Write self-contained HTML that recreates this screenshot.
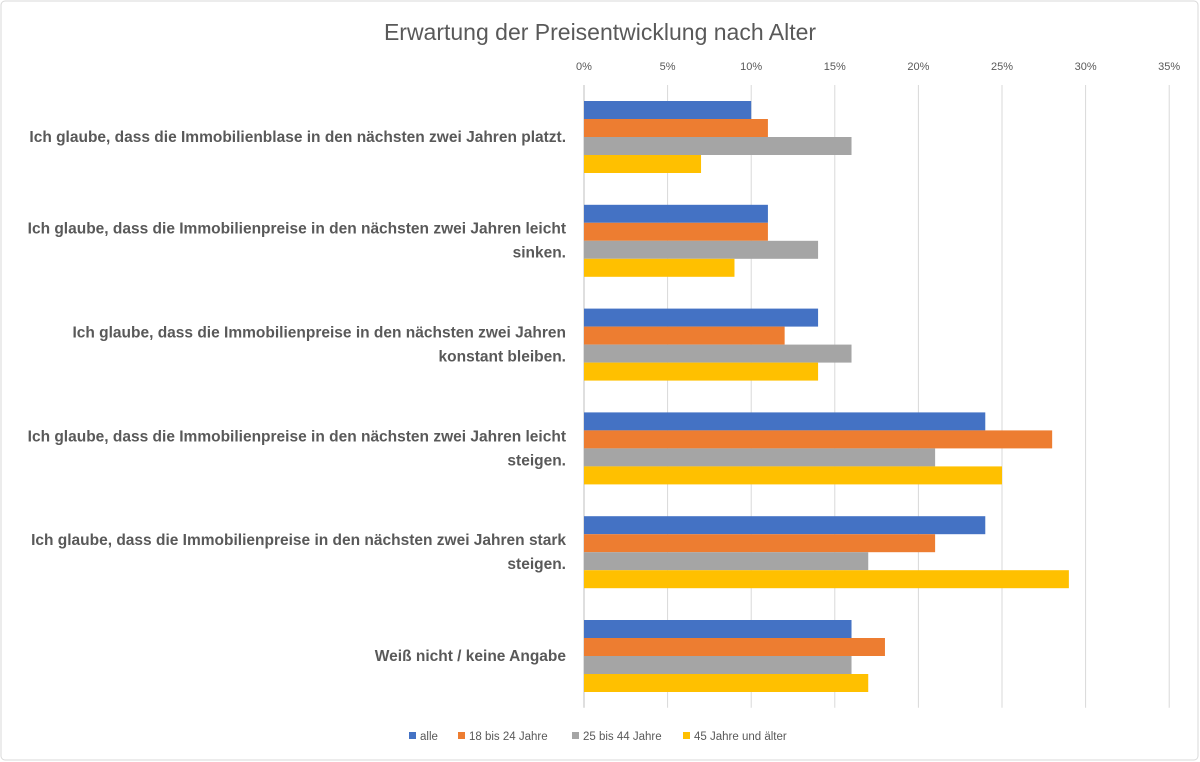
<!DOCTYPE html>
<html><head><meta charset="utf-8"><style>
html,body{margin:0;padding:0;background:#fff;}
svg{display:block;font-family:"Liberation Sans",sans-serif;}
</style></head><body>
<svg id="chart" width="1200" height="762" viewBox="0 0 1200 762">
<rect x="1" y="1" width="1197" height="759" rx="4" fill="#fff" stroke="#d9d9d9"/>
<text x="600" y="40" text-anchor="middle" font-size="23" fill="#595959">Erwartung der Preisentwicklung nach Alter</text>
<g id="grid"></g><g id="bars"></g><g id="labels"></g><g id="legend"></g>
</svg>
<script>
const categories=[
["Ich glaube, dass die Immobilienblase in den nächsten zwei Jahren platzt."],
["Ich glaube, dass die Immobilienpreise in den nächsten zwei Jahren leicht","sinken."],
["Ich glaube, dass die Immobilienpreise in den nächsten zwei Jahren","konstant bleiben."],
["Ich glaube, dass die Immobilienpreise in den nächsten zwei Jahren leicht","steigen."],
["Ich glaube, dass die Immobilienpreise in den nächsten zwei Jahren stark","steigen."],
["Weiß nicht / keine Angabe"]];
const seriesNames=["alle","18 bis 24 Jahre","25 bis 44 Jahre","45 Jahre und älter"];
const seriesAlle=[10,11,14,24,24,16];
const series1824=[11,11,12,28,21,18];
const series2544=[16,14,16,21,17,16];
const series45=[7,9,14,25,29,17];
const ticks=[0,5,10,15,20,25,30,35];
const colors=["#4472C4","#ED7D31","#A5A5A5","#FFC000"];
const NS="http://www.w3.org/2000/svg";
const x0=584,pxPer=16.72,top0=85,band=103.8,barH=18;
const xs=v=>x0+v*pxPer;
const ys=i=>top0+i*band;
function mk(t,a,p){const e=document.createElementNS(NS,t);for(const k in a)e.setAttribute(k,a[k]);p.appendChild(e);return e;}
const grid=document.getElementById('grid');
ticks.forEach(t=>{
 const l=mk('line',{x1:xs(t),x2:xs(t),y1:top0,y2:top0+6*band,stroke:t===0?'#bfbfbf':'#d9d9d9','stroke-width':1},grid);
 
 
 const tx=mk('text',{x:xs(t),y:70,'text-anchor':'middle','font-size':11,fill:'#595959'},grid);
 tx.textContent=t+'%';
 
 
});
const all=[seriesAlle,series1824,series2544,series45];
const bars=document.getElementById('bars');
categories.forEach((c,i)=>{
 all.forEach((s,j)=>{
  const r=mk('rect',{x:x0,y:ys(i)+16+j*barH,width:xs(s[i])-x0,height:barH,fill:colors[j]},bars);
  
  
 });
 const cy=ys(i)+band/2;
 const lines=c;
 lines.forEach((ln,k)=>{
  const t=mk('text',{x:566,y:cy+5+(k-(lines.length-1)/2)*24,'text-anchor':'end','font-size':15.5,'font-weight':'bold',fill:'#595959'},document.getElementById('labels'));
  t.textContent=ln;
  
  
 });
});
const leg=document.getElementById('legend');
const lx=[409,458,572,683];
seriesNames.forEach((n,j)=>{
 const g=mk('g',{},leg);
 
 
 mk('rect',{x:lx[j],y:732,width:7,height:7,fill:colors[j]},g);
 const t=mk('text',{x:lx[j]+11,y:740,'font-size':11.5,fill:'#595959'},g);
 t.textContent=n;
});
</script>
</body></html>
